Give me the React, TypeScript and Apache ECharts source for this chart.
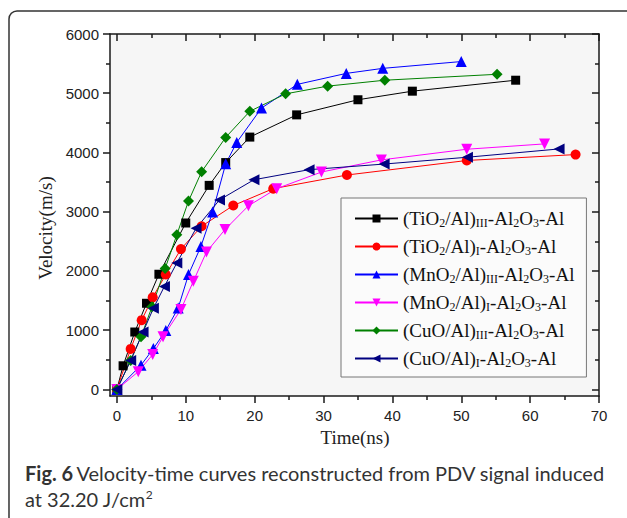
import React, { useEffect, useRef } from 'react';
import * as echarts from 'echarts';

// Time (ns), Velocity (m/s)
const tio2III: number[][] = [[0,0],[0.9,400],[2.6,970],[4.3,1455],[6.1,1945],[10,2810],[13.4,3445],[15.8,3830],[19.3,4260],[26.1,4635],[35,4890],[42.9,5035],[57.9,5220]];
const tio2I: number[][] = [[0,0],[2.0,685],[3.6,1170],[5.2,1555],[7.1,1940],[9.3,2370],[12.3,2755],[16.9,3105],[22.7,3390],[33.4,3620],[50.8,3865],[66.6,3965]];
const mno2III: number[][] = [[0,0],[3.5,410],[5.3,690],[7.1,995],[8.9,1375],[10.4,1940],[12.2,2415],[13.9,2995],[15.8,3810],[17.4,4170],[21,4750],[26.2,5150],[33.3,5335],[38.6,5420],[50,5535]];
const mno2I: number[][] = [[0,0],[3.1,300],[5.2,590],[6.7,890],[9.3,1350],[11.1,1825],[13,2320],[15.7,2700],[19.1,3100],[23.2,3390],[29.7,3670],[38.4,3875],[50.8,4055],[62.1,4145]];
const cuoIII: number[][] = [[0,0],[2.0,490],[3.5,890],[5.1,1395],[7.0,2040],[8.7,2610],[10.4,3180],[12.3,3675],[15.8,4255],[19.3,4695],[24.5,4990],[30.6,5120],[38.9,5220],[55.2,5320]];
const cuoI: number[][] = [[0,0],[2.0,490],[3.8,970],[5.3,1370],[6.9,1740],[8.7,2135],[11.5,2720],[14.9,3200],[19.9,3540],[27.9,3710],[38.8,3805],[50.9,3920],[64.2,4060]];

const seriesNames = [
  '(TiO2/Al)III-Al2O3-Al',
  '(TiO2/Al)I-Al2O3-Al',
  '(MnO2/Al)III-Al2O3-Al',
  '(MnO2/Al)I-Al2O3-Al',
  '(CuO/Al)III-Al2O3-Al',
  '(CuO/Al)I-Al2O3-Al',
];
const legendRich = [
  '{n|(TiO}{s|2}{n|/Al)}{s|III}{n|-Al}{s|2}{n|O}{s|3}{n|-Al}',
  '{n|(TiO}{s|2}{n|/Al)}{s|I}{n|-Al}{s|2}{n|O}{s|3}{n|-Al}',
  '{n|(MnO}{s|2}{n|/Al)}{s|III}{n|-Al}{s|2}{n|O}{s|3}{n|-Al}',
  '{n|(MnO}{s|2}{n|/Al)}{s|I}{n|-Al}{s|2}{n|O}{s|3}{n|-Al}',
  '{n|(CuO/Al)}{s|III}{n|-Al}{s|2}{n|O}{s|3}{n|-Al}',
  '{n|(CuO/Al)}{s|I}{n|-Al}{s|2}{n|O}{s|3}{n|-Al}',
];
const seriesData = [tio2III, tio2I, mno2III, mno2I, cuoIII, cuoI];
const seriesColors = ['#000000', '#ff0000', '#0000ff', '#ff00ff', '#008000', '#000080'];
const seriesSymbols = ['rect', 'circle', 'triangle', 'triangle', 'diamond', 'triangle'];
const seriesRotate = [0, 0, 0, 180, 0, 90];
const seriesSizes = [9, 10, 11, 11, 11, 11];

const xMajor = [0, 10, 20, 30, 40, 50, 60, 70];
const xMinor = [5, 15, 25, 35, 45, 55, 65];
const yMajor = [0, 1000, 2000, 3000, 4000, 5000, 6000];
const yMinor = [500, 1500, 2500, 3500, 4500, 5500];

const X_MIN = -1, X_MAX = 70, Y_MIN = -110, Y_MAX = 6000;
const AX = { color: '#1a1a1a', width: 1.5 };
const SANS = 'Liberation Sans';
const SERIF = 'Liberation Serif';

function xAxisDef(pos: 'top' | 'bottom', major: boolean) {
  const isBottom = pos === 'bottom';
  return {
    type: 'value', min: X_MIN, max: X_MAX, position: pos,
    axisLine: { show: major, onZero: false, lineStyle: AX },
    axisTick: { show: true, inside: !isBottom, length: major ? 7 : 4, customValues: major ? xMajor : xMinor, lineStyle: AX },
    axisLabel: isBottom && major
      ? { show: true, customValues: xMajor, formatter: (v: number) => String(v), fontSize: 15, fontFamily: SANS, color: '#222', margin: 12 }
      : { show: false },
    splitLine: { show: false },
  };
}
function yAxisDef(pos: 'left' | 'right', major: boolean) {
  const isLeft = pos === 'left';
  return {
    type: 'value', min: Y_MIN, max: Y_MAX, position: pos,
    axisLine: { show: major, onZero: false, lineStyle: AX },
    axisTick: { show: true, inside: !isLeft, length: major ? 7 : 4, customValues: major ? yMajor : yMinor, lineStyle: AX },
    axisLabel: isLeft && major
      ? { show: true, customValues: yMajor, formatter: (v: number) => String(v), fontSize: 15, fontFamily: SANS, color: '#222', margin: 11 }
      : { show: false },
    splitLine: { show: false },
  };
}

export default function App() {
  const ref = useRef<HTMLDivElement>(null);
  useEffect(() => {
    if (!ref.current) return;
    const chart = echarts.init(ref.current, undefined, { renderer: 'svg' });
    const richMap: Record<string, string> = {};
    seriesNames.forEach((n, i) => { richMap[n] = legendRich[i]; });
    chart.setOption({
      animation: false,
      backgroundColor: '#ffffff',
      grid: { left: 110, right: 28, top: 34, bottom: 122, show: true, backgroundColor: '#f6f6f6', borderWidth: 0 },
      xAxis: [xAxisDef('bottom', true), xAxisDef('bottom', false), xAxisDef('top', true), xAxisDef('top', false)],
      yAxis: [yAxisDef('left', true), yAxisDef('left', false), yAxisDef('right', true), yAxisDef('right', false)],
      legend: {
        orient: 'vertical', left: 341, top: 198,
        padding: [11, 12, 8, 13], itemGap: 8, itemWidth: 43, itemHeight: 10,
        backgroundColor: '#fbfbfb', borderColor: '#777', borderWidth: 1,
        data: seriesNames,
        formatter: (name: string) => richMap[name] || name,
        textStyle: {
          color: '#111', fontFamily: SERIF, fontSize: 19,
          rich: {
            n: { fontFamily: SERIF, fontSize: 19, color: '#111', lineHeight: 21, verticalAlign: 'middle' },
            s: { fontFamily: SERIF, fontSize: 12, color: '#111', lineHeight: 12, verticalAlign: 'bottom', padding: [4, 0, 0, 0] },
          },
        },
      },
      series: seriesNames.map((name, i) => ({
        name, type: 'line', xAxisIndex: 0, yAxisIndex: 0,
        data: seriesData[i],
        symbol: seriesSymbols[i], symbolSize: seriesSizes[i], symbolRotate: seriesRotate[i],
        showAllSymbol: true,
        itemStyle: { color: seriesColors[i] },
        lineStyle: { color: seriesColors[i], width: 1 },
      })),
      graphic: [
        { type: 'rect', silent: true, z: 100, shape: { x: 9, y: 11, width: 630, height: 540, r: 8 }, style: { fill: 'none', stroke: '#333', lineWidth: 1.5 } },
        { type: 'text', x: 45, y: 228, rotation: Math.PI / 2, style: { text: 'Velocity(m/s)', fontFamily: SERIF, fontSize: 19, fill: '#222', align: 'center', verticalAlign: 'middle' } },
        { type: 'text', x: 355, y: 437, style: { text: 'Time(ns)', fontFamily: SERIF, fontSize: 19, fill: '#222', align: 'center', verticalAlign: 'middle' } },
        { type: 'text', x: 25, y: 473, style: {
          text: '{b|Fig. 6} {n|Velocity-time curves reconstructed from PDV signal induced}',
          align: 'left', verticalAlign: 'middle',
          rich: {
            b: { fontFamily: 'Lato', fontWeight: 'bold', fontSize: 20, fill: '#333' },
            n: { fontFamily: 'Lato', fontSize: 20, fill: '#333' },
          },
        } },
        { type: 'text', x: 25, y: 499, style: {
          text: '{n|at 32.20 J/cm}{p|2}',
          align: 'left', verticalAlign: 'middle',
          rich: {
            n: { fontFamily: 'Lato', fontSize: 20, fill: '#333', lineHeight: 22, verticalAlign: 'middle' },
            p: { fontFamily: 'Lato', fontSize: 12, fill: '#333', lineHeight: 12, verticalAlign: 'top' },
          },
        } },
      ],
    });
    return () => chart.dispose();
  }, []);
  return <div ref={ref} style={{ position: 'fixed', left: 0, top: 0, width: 627, height: 518 }} />;
}
